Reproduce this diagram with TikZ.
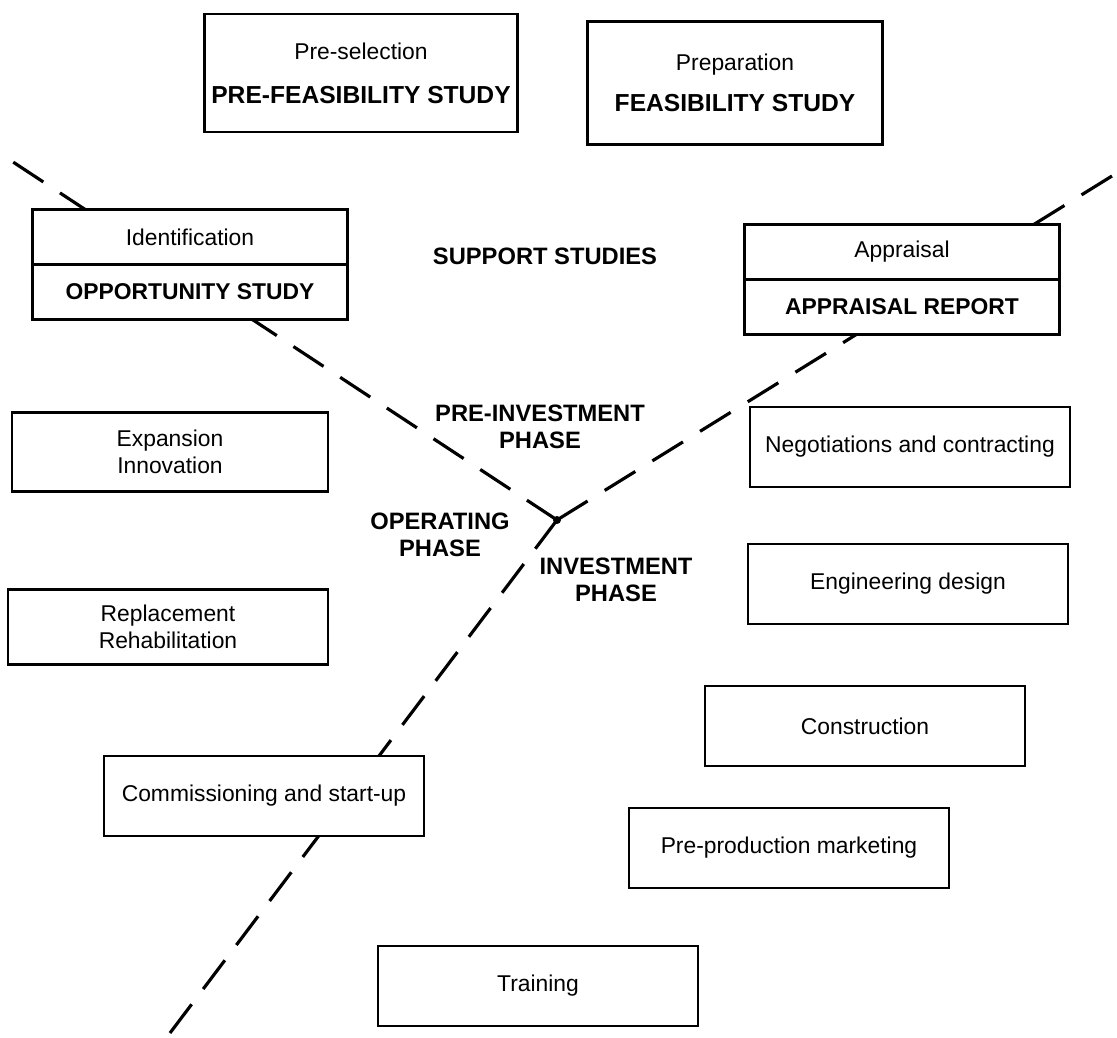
\documentclass[tikz,border=0pt]{standalone}
\usepackage{fontspec}
\setmainfont{Liberation Sans}
\usetikzlibrary{positioning}
\begin{document}
\begin{tikzpicture}[x=0.2mm, y=-0.2mm,
		task/.style={draw, fill=white, line width=1.5pt, minimum width=64mm, minimum height=16mm,
				inner sep=0pt, align=center, font=\fontsize{13}{15}\selectfont},
		half/.style={task, outer sep=0pt, minimum width=63mm, minimum height=11mm},
		study/.style={font=\fontsize{13.5}{15.5}\selectfont\bfseries, align=center},
		phase/.style={dash pattern=on 7.2mm off #1, line width=1.8pt}]

	\useasboundingbox (0,0) rectangle (1117,1038);

	% phase boundaries (gap chosen so each line ends on a full dash)
	\coordinate (hub) at (557,520);
	\coordinate (nw) at (13,162);
	\coordinate (ne) at (1112,176);
	\coordinate (sw) at (170,1033);
	\draw[phase=3.98mm] (hub) -- (nw);
	\draw[phase=4.02mm] (hub) -- (ne);
	\draw[phase=3.83mm] (hub) -- (sw);
	\fill (hub) circle (0.8mm);

	% support studies
	\node[task, minimum width=62.6mm, minimum height=23.6mm] (prefeas) at (361,73)
		{Pre-selection\\[3.5mm]{\fontsize{14}{15}\selectfont\bfseries PRE-FEASIBILITY STUDY}};
	\node[task, minimum width=59mm, minimum height=24.6mm] (feas) at (735,83)
		{Preparation\\[2.9mm]{\fontsize{14}{15}\selectfont\bfseries FEASIBILITY STUDY}};
	\node[half] (ident) at (190,237) {Identification};
	\node[half, below=0pt of ident] (oppstudy) {\textbf{OPPORTUNITY STUDY}};
	\node[half] (apprais) at (902,252) {Appraisal};
	\node[half, below=0pt of apprais] (apprep) {\textbf{APPRAISAL REPORT}};

	% operating phase
	\node[task, minimum width=63.2mm, minimum height=15.8mm] (expan) at (170,452) {Expansion\\Innovation};
	\node[task, minimum height=15mm] (replace) at (168,627) {Replacement\\Rehabilitation};

	% investment phase
	\foreach \n/\x/\y/\t in {nego/910/447/Negotiations and contracting, engdes/908/584/Engineering design,
			constr/865/726/Construction, premkt/789/848/Pre-production marketing,
			commis/264/796/Commissioning and start-up, train/538/986/Training} {
			\node[task] (\n) at (\x,\y) {\t};
		}

	% labels
	\node[study] (support) at (545,256) {SUPPORT STUDIES};
	\node[study] (preinv) at (540,427) {PRE-INVESTMENT\\PHASE};
	\node[study] (oper) at (440,535) {OPERATING\\PHASE};
	\node[study] (inv) at (616,580) {INVESTMENT\\PHASE};
\end{tikzpicture}
\end{document}
